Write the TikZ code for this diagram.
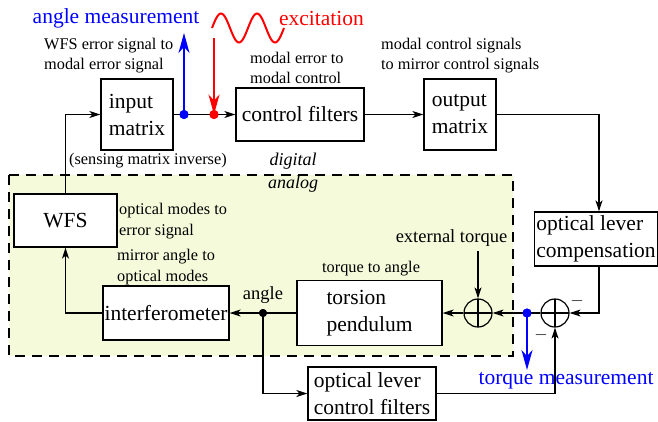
\documentclass[tikz,border=0pt]{standalone}
\usepackage{fontspec}
\setmainfont{Liberation Serif}
\usetikzlibrary{arrows.meta}
\definecolor{analogbg}{RGB}{245,250,218}
\newcommand{\bigtxt}{\fontsize{21.5}{27}\selectfont}
\newcommand{\midtxt}{\fontsize{18.5}{22}\selectfont}
\newcommand{\smtxt}{\fontsize{16.3}{20.5}\selectfont}

\begin{document}
\begin{tikzpicture}[x=1pt,y=-1pt,
  blk/.style={draw, line width=1.3pt, fill=white, align=left, inner sep=2pt, font=\bigtxt},
  lbl/.style={align=left, inner sep=0pt, font=\smtxt},
  wire/.style={line width=1.2pt},
  sig/.style={wire, -{Stealth[length=11pt,width=7pt,inset=3pt]}},
  bigarr/.style={line width=2pt, -{Stealth[length=20pt,width=11pt,inset=6pt]}},
  junc/.style={circle, draw, line width=1.2pt, minimum size=28pt, inner sep=0pt,
    path picture={\draw[line width=1.2pt] (path picture bounding box.north) -- (path picture bounding box.south)
      (path picture bounding box.west) -- (path picture bounding box.east);}},
  dot/.style={circle, fill, inner sep=0pt, minimum size=9pt}]
\useasboundingbox (0,0) rectangle (658,421);

% analog part
\draw[dash pattern=on 10pt off 7pt, line width=1.3pt, fill=analogbg] (9,175) rectangle (513,356);
\node[font=\fontsize{18}{22}\selectfont\itshape, inner sep=0pt] (dig) at (293,161) {digital};
\node[font=\fontsize{18}{22}\selectfont\itshape, inner sep=0pt] (ana) at (293,184) {analog};

% blocks
\node[blk, minimum width=72pt, minimum height=71pt] (inmat) at (137,114.5) {input\\matrix};
\node[blk, minimum width=128pt, minimum height=53pt] (ctrl) at (300,114.5) {control filters};
\node[blk, minimum width=72pt, minimum height=71pt] (outmat) at (460,114.5) {output\\matrix};
\node[blk, minimum width=123pt, minimum height=54pt] (olcomp) at (596,239) {optical lever\\compensation};
\node[junc] (sumb) at (555,313) {};
\node[junc] (suma) at (478,313) {};
\node[blk, minimum width=145pt, minimum height=65pt] (tors) at (369.5,313) {torsion\\pendulum};
\node[blk, minimum width=126pt, minimum height=54pt, inner sep=0pt] (interf) at (166,313) {interferometer};
\node[blk, minimum width=103pt, minimum height=53pt] (wfs) at (65.5,220.5) {WFS};
\node[blk, minimum width=128pt, minimum height=53pt] (olctrl) at (372,393.5) {optical lever\\control filters};

% labels
\node[lbl, anchor=west] (wfslab) at (44,55.5) {WFS error signal to\\modal error signal};
\node[lbl, anchor=west] (modlab) at (250,68) {modal error to\\modal control};
\node[lbl, anchor=west] (outlab) at (381,55.5) {modal control signals\\to mirror control signals};
\node[lbl, anchor=west] (senslab) at (69,161) {(sensing matrix inverse)};
\node[lbl, anchor=west] (optlab) at (119,221) {optical modes to\\error signal};
\node[lbl, anchor=west] (mirlab) at (117,267) {mirror angle to\\optical modes};
\node[lbl, anchor=west] (torlab) at (322,269) {torque to angle};
\node[lbl, font=\midtxt] (anglab) at (263,295) {angle};
\node[lbl, font=\midtxt] (extlab) at (451.5,238) {external torque};
\node[lbl, font=\smtxt] (minb) at (577,301) {$-$};
\node[lbl, font=\smtxt] (mina) at (541,335) {$-$};
\node[inner sep=0pt, font=\bigtxt, text=blue] (anglemeas) at (116,18) {angle measurement};
\node[inner sep=0pt, font=\bigtxt, text=red] (excit) at (321.5,18) {excitation};
\node[inner sep=0pt, font=\bigtxt, text=blue] (torqmeas) at (566,381) {torque measurement};

% excitation wave
\draw[red, line width=2pt] plot[domain=212:284, samples=73, smooth] (\x, {28-14.5*sin(10*(\x-212))});

% connectors
\node[dot, blue] (angdot) at (184,114.5) {};
\node[dot, red] (excdot) at (214,114.5) {};
\node[dot, blue] (torqdot) at (527,313) {};
\node[dot, minimum size=8pt] (sensdot) at (263,313) {};
\coordinate (angtip) at (184,33);
\coordinate (excstart) at (214,38);
\coordinate (torqtip) at (527,370);
\coordinate (extstart) at (478,251);

\draw[sig] (wfs.north) |- (inmat.west);
\draw[sig] (inmat.east) -- (ctrl.west);
\draw[sig] (ctrl.east) -- (outmat.west);
\draw[sig] (outmat.east) -| ([xshift=3pt]olcomp.north);
\draw[sig] ([xshift=3pt]olcomp.south) |- (sumb.east);
\draw[sig] (sumb.west) -- (suma.east);
\draw[sig] (suma.west) -- (tors.east);
\draw[sig] (extstart) -- (suma.north);
\draw[sig] (tors.west) -- (interf.east);
\draw[sig] (interf.west) -| (wfs.south);
\draw[sig] (sensdot.center) |- (olctrl.west);
\draw[sig] (olctrl.east) -| (sumb.south);
\node[dot, blue] at (angdot) {};
\node[dot, red] at (excdot) {};
\node[dot, blue] at (torqdot) {};
\node[dot, minimum size=8pt] at (sensdot) {};
\draw[bigarr, blue] (angdot.center) -- (angtip);
\draw[bigarr, red, line width=1.6pt] (excstart) -- (excdot.center);
\draw[bigarr, blue] (torqdot.center) -- (torqtip);
\end{tikzpicture}
\end{document}
